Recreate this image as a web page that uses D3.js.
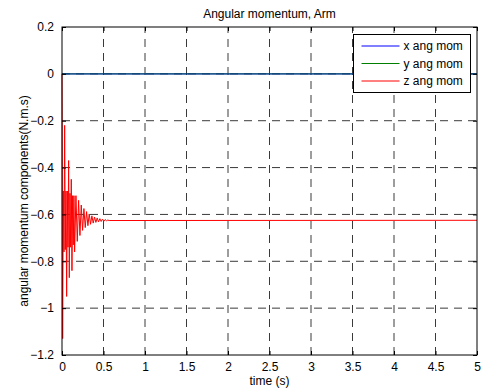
<!DOCTYPE html>
<html>
<head>
<meta charset="utf-8">
<script src="https://cdn.jsdelivr.net/npm/d3@7"></script>
<style>
  html, body { margin: 0; padding: 0; background: #fff; }
  svg { display: block; font-family: "Liberation Sans", Arial, sans-serif; }
</style>
</head>
<body>
<svg id="chart" width="483" height="391"></svg>
<script>
// Angular momentum components of the arm over time
const titleText = "Angular momentum, Arm";
const xLabelText = "time (s)";
const yLabelText = "angular momentum components(N.m.s)";

const xTicks = [0, 0.5, 1, 1.5, 2, 2.5, 3, 3.5, 4, 4.5, 5];
const yTicks = [0.2, 0, -0.2, -0.4, -0.6, -0.8, -1, -1.2];

const seriesNames = ["x ang mom", "y ang mom", "z ang mom"];
const seriesColors = ["#0000ff", "#007f00", "#ff0000"];

// x and y components stay at zero for the whole run
const xTime = [0, 5];
const xValue = [0, 0];
const yTime = [0, 5];
const yValue = [0, 0];

// z component: sharp drop, decaying oscillation, then settles
const zTime = [
  0.000, 0.008, 0.016, 0.024, 0.032, 0.040, 0.048, 0.056, 0.064, 0.072,
  0.080, 0.088, 0.096, 0.104, 0.112, 0.120, 0.128, 0.136, 0.144, 0.152,
  0.168, 0.184, 0.200, 0.216, 0.232, 0.248, 0.264, 0.280, 0.296, 0.312,
  0.328, 0.344, 0.360, 0.376, 0.392, 0.408, 0.424, 0.440, 0.456, 0.472,
  0.488, 0.504, 0.520, 0.536, 0.552, 0.568, 5.000
];
const zValue = [
  0.000, -1.130, -0.500, -0.760, -0.220, -0.750, -0.500, -0.950, -0.500, -0.740,
  -0.370, -0.870, -0.510, -0.740, -0.450, -0.840, -0.520, -0.730, -0.520, -0.760,
  -0.520, -0.715, -0.540, -0.690, -0.560, -0.668, -0.575, -0.656, -0.588, -0.648,
  -0.598, -0.642, -0.606, -0.637, -0.611, -0.634, -0.615, -0.632, -0.618, -0.630,
  -0.620, -0.629, -0.622, -0.627, -0.624, -0.626, -0.625
];

const svg = d3.select("#chart");
const margin = { left: 62, right: 6, top: 27, bottom: 36 };
const W = 483, H = 391;

const x = d3.scaleLinear().domain([0, 5]).range([margin.left, W - margin.right]);
const y = d3.scaleLinear().domain([-1.2, 0.2]).range([H - margin.bottom, margin.top]);

const fontSize = 12;

// dashed grid
const grid = svg.append("g").attr("stroke", "#3a3a3a").attr("stroke-width", 1)
  .attr("stroke-dasharray", "8,6").attr("fill", "none");
xTicks.slice(1, -1).forEach(t => {
  grid.append("line").attr("x1", x(t)).attr("x2", x(t))
    .attr("y1", y(-1.2)).attr("y2", y(0.2));
});
yTicks.slice(1, -1).forEach(t => {
  grid.append("line").attr("x1", x(0)).attr("x2", x(5))
    .attr("y1", y(t)).attr("y2", y(t));
});

// data lines
const line = d3.line().x(d => x(d[0])).y(d => y(d[1]));
const series = [
  d3.zip(xTime, xValue),
  d3.zip(yTime, yValue),
  d3.zip(zTime, zValue)
];
const plot = svg.append("g");
plot.append("path").datum(series[0]).attr("d", line)
  .attr("fill", "none").attr("stroke", seriesColors[0]).attr("stroke-width", 1.2);
plot.append("path").datum(series[1]).attr("d", line)
  .attr("fill", "none").attr("stroke", seriesColors[1]).attr("stroke-width", 1.2)
  .attr("stroke-opacity", 0.6);
plot.append("path").datum(series[2]).attr("d", line)
  .attr("fill", "none").attr("stroke", seriesColors[2]).attr("stroke-width", 1);

// axes with inward ticks on all four sides
const tickLen = 4;
const axB = svg.append("g").attr("transform", `translate(0,${y(-1.2)})`)
  .call(d3.axisBottom(x).tickValues(xTicks).tickSizeInner(-tickLen).tickSizeOuter(0)
    .tickPadding(7).tickFormat(d3.format("")));
const axT = svg.append("g").attr("transform", `translate(0,${y(0.2)})`)
  .call(d3.axisTop(x).tickValues(xTicks).tickSizeInner(-tickLen).tickSizeOuter(0)
    .tickFormat(""));
const axL = svg.append("g").attr("transform", `translate(${x(0)},0)`)
  .call(d3.axisLeft(y).tickValues(yTicks).tickSizeInner(-tickLen).tickSizeOuter(0)
    .tickPadding(8).tickFormat(d3.format("")));
const axR = svg.append("g").attr("transform", `translate(${x(5)},0)`)
  .call(d3.axisRight(y).tickValues(yTicks).tickSizeInner(-tickLen).tickSizeOuter(0)
    .tickFormat(""));
[axB, axT, axL, axR].forEach(a => {
  a.select(".domain").remove();
  a.selectAll("line").attr("stroke", "#000");
  a.selectAll("text").attr("fill", "#000").attr("font-size", fontSize)
    .attr("font-family", "Liberation Sans, Arial, sans-serif");
});

// box
svg.append("rect").attr("x", x(0)).attr("y", y(0.2))
  .attr("width", x(5) - x(0)).attr("height", y(-1.2) - y(0.2))
  .attr("fill", "none").attr("stroke", "#000").attr("stroke-width", 1);

// title and axis labels
svg.append("text").attr("x", (x(0) + x(5)) / 2).attr("y", 18)
  .attr("text-anchor", "middle").attr("font-size", fontSize).text(titleText);
svg.append("text").attr("x", (x(0) + x(5)) / 2).attr("y", 385)
  .attr("text-anchor", "middle").attr("font-size", fontSize).text(xLabelText);
svg.append("text").attr("transform", `translate(28,${(y(0.2) + y(-1.2)) / 2 + 10}) rotate(-90)`)
  .attr("text-anchor", "middle").attr("font-size", fontSize).text(yLabelText);

// legend
const lg = svg.append("g").attr("transform", "translate(353.5,34.5)");
lg.append("rect").attr("width", 117).attr("height", 58)
  .attr("fill", "#fff").attr("stroke", "#000").attr("stroke-width", 1);
seriesNames.forEach((name, i) => {
  const yy = 11.5 + i * 17.5;
  lg.append("line").attr("x1", 8).attr("x2", 46).attr("y1", yy).attr("y2", yy)
    .attr("stroke", seriesColors[i]).attr("stroke-width", 1);
  lg.append("text").attr("x", 50).attr("y", yy + 4).attr("font-size", fontSize)
    .text(name);
});
</script>
</body>
</html>
